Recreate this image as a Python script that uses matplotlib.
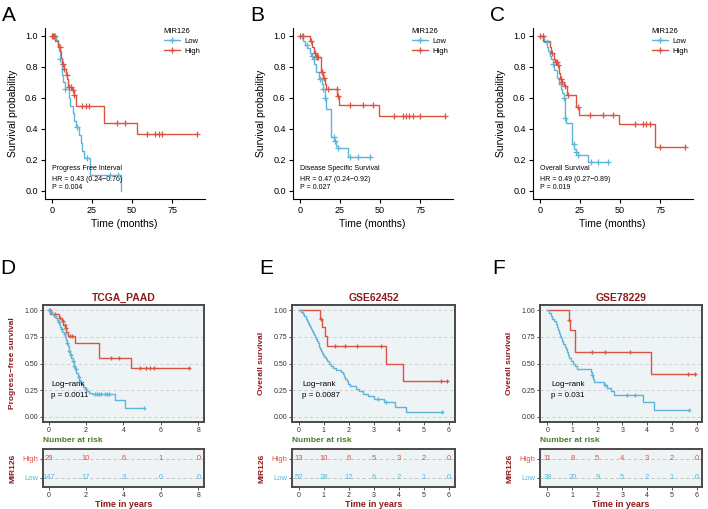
import numpy as np
import matplotlib
matplotlib.use('Agg')
import matplotlib.pyplot as plt
from matplotlib.lines import Line2D

plt.rcParams['font.family'] = ['Liberation Sans', 'DejaVu Sans']

W, H = 708, 509
BLUE = '#5DB5D8'
RED = '#DD5341'
DARKRED = '#8E1B1B'
GREEN = '#4C7A2C'
PANEL_BG = '#EEF3F5'

# ---- top row (months) ----
a_low_time = [2.5, 3.5, 4.5, 5, 6, 6.5, 7, 8, 10.5, 11.5, 13, 14, 15, 17, 18, 19, 20, 23.5, 43]
a_low_surv = [0.975, 0.95, 0.9, 0.85, 0.8, 0.75, 0.7, 0.66, 0.6, 0.55, 0.5, 0.45, 0.41, 0.36, 0.31, 0.26, 0.21, 0.1, 0.0]
a_low_cens = [2, 5.2, 8, 15.5, 22, 36, 41]
a_high_time = [2.0, 3.5, 5.2, 5.8, 6.5, 7.2, 8.5, 9.5, 10.2, 12.5, 13.5, 15, 32.5, 53]
a_high_surv = [0.97, 0.93, 0.9, 0.86, 0.82, 0.79, 0.75, 0.72, 0.67, 0.65, 0.62, 0.55, 0.44, 0.365]
a_high_cens = [0.2, 0.8, 1.5, 5, 6.7, 7.5, 9.2, 10.8, 11.8, 12.8, 13.8, 18.5, 21.2, 23.3, 40.4, 45.6, 59, 64.4, 66.5, 68.5, 90.5]

b_low_time = [2, 3, 4.5, 6, 7, 8, 9, 10, 12, 13.5, 14.5, 15.5, 16, 19.5, 21.5, 22.5, 23.5, 30]
b_low_surv = [0.97, 0.94, 0.92, 0.89, 0.87, 0.85, 0.82, 0.77, 0.72, 0.69, 0.66, 0.6, 0.53, 0.35, 0.32, 0.29, 0.275, 0.22]
b_low_cens = [1, 4.2, 7.7, 8.8, 12.5, 14.5, 15.8, 21, 22, 23.6, 31, 36.5, 43.7]
b_high_time = [6, 7.5, 9, 10, 13, 14.5, 15.5, 16.5, 23.2, 24.4, 49.6]
b_high_surv = [0.97, 0.93, 0.89, 0.865, 0.77, 0.73, 0.69, 0.655, 0.61, 0.555, 0.485]
b_high_cens = [0, 1.7, 6.9, 9.4, 10.4, 11.2, 13.5, 14, 15, 17.2, 23, 23.6, 31, 39.6, 45.4, 58.7, 64, 66, 68.3, 70.8, 75, 90.6]

c_low_time = [2.5, 4.5, 5, 6, 7, 8, 9, 10.5, 12, 13, 14, 14.8, 15.6, 16.5, 19.8, 21.5, 22.5, 23.5, 30.2]
c_low_surv = [0.96, 0.93, 0.9, 0.87, 0.85, 0.82, 0.78, 0.73, 0.69, 0.66, 0.63, 0.6, 0.47, 0.44, 0.3, 0.27, 0.25, 0.235, 0.185]
c_low_cens = [2, 4.2, 8.3, 12.9, 14.9, 15.8, 21.2, 22.6, 23.6, 31.9, 36.5, 42.3]
c_high_time = [1.8, 6.3, 7, 8.5, 9.5, 11, 12, 12.5, 13.5, 15, 16.7, 22.5, 24.4, 49.6, 71.9]
c_high_surv = [0.97, 0.93, 0.89, 0.85, 0.83, 0.81, 0.76, 0.72, 0.705, 0.68, 0.62, 0.54, 0.49, 0.43, 0.285]
c_high_cens = [0, 1.7, 7.3, 9.8, 10.5, 11.2, 12.9, 14, 15.5, 17.5, 23.5, 31.25, 39.6, 45.4, 59, 64, 66.25, 68.75, 75, 90.6]

# ---- bottom row (years) ----
d_low_time = [0.05, 0.12, 0.2, 0.3, 0.38, 0.45, 0.5, 0.56, 0.62, 0.68, 0.74, 0.8, 0.86, 0.92, 0.98, 1.04,
              1.1, 1.16, 1.22, 1.28, 1.34, 1.4, 1.48, 1.56, 1.64, 1.72, 1.82, 1.92, 2.02, 2.15, 2.3, 3.55, 4.1]
d_low_surv = [0.99, 0.98, 0.97, 0.95, 0.93, 0.91, 0.89, 0.87, 0.84, 0.82, 0.8, 0.78, 0.75, 0.72, 0.69, 0.66,
              0.62, 0.58, 0.55, 0.52, 0.48, 0.45, 0.41, 0.37, 0.34, 0.31, 0.28, 0.26, 0.24, 0.22, 0.21, 0.16, 0.085]
d_low_cens = [0.03, 0.15, 0.35, 0.55, 0.7, 0.85, 1.0, 1.1, 1.2, 1.3, 1.36, 1.45, 1.6, 1.7, 2.0, 2.5, 2.6,
              2.7, 2.8, 3.0, 3.1, 3.2, 5.08]
d_high_time = [0.1, 0.55, 0.7, 0.78, 0.88, 0.95, 1.04, 1.42, 2.7, 4.4]
d_high_surv = [0.965, 0.93, 0.9, 0.86, 0.83, 0.8, 0.76, 0.69, 0.55, 0.46]
d_high_cens = [0.05, 0.32, 0.6, 0.75, 0.85, 0.93, 1.15, 1.25, 3.35, 3.78, 4.9, 5.22, 5.43, 5.63, 7.52]
d_ticks = [0, 2, 4, 6, 8]
d_risk_high = [29, 10, 6, 1, 0]
d_risk_low = [147, 17, 3, 0, 0]

e_low_time = [0.08, 0.15, 0.22, 0.28, 0.33, 0.38, 0.42, 0.46, 0.5, 0.54, 0.58, 0.62, 0.66, 0.7, 0.73, 0.76,
              0.79, 0.82, 0.86, 0.9, 0.94, 0.98, 1.02, 1.07, 1.13, 1.2, 1.27, 1.35, 1.5, 1.7, 1.76, 1.8,
              1.85, 1.92, 1.98, 2.05, 2.3, 2.4, 2.55, 2.75, 3.0, 3.4, 3.84, 4.3]
e_low_surv = [0.981, 0.962, 0.942, 0.923, 0.904, 0.885, 0.865, 0.846, 0.827, 0.808, 0.788, 0.769, 0.75, 0.731,
              0.712, 0.692, 0.673, 0.654, 0.635, 0.615, 0.596, 0.577, 0.558, 0.538, 0.519, 0.5, 0.481, 0.462,
              0.442, 0.423, 0.4, 0.377, 0.354, 0.331, 0.308, 0.285, 0.262, 0.238, 0.215, 0.192, 0.169, 0.141,
              0.094, 0.047]
e_low_cens = [3.17, 3.47, 5.73]
e_high_time = [0.86, 0.92, 1.05, 1.12, 3.49, 4.17]
e_high_surv = [0.923, 0.846, 0.76, 0.667, 0.5, 0.333]
e_high_cens = [0.88, 1.44, 1.83, 2.31, 3.3, 5.67, 5.93]
e_ticks = [0, 1, 2, 3, 4, 5, 6]
e_risk_high = [13, 10, 6, 5, 3, 2, 0]
e_risk_low = [52, 28, 12, 6, 2, 1, 0]

f_low_time = [0.07, 0.14, 0.2, 0.27, 0.33, 0.38, 0.43, 0.48, 0.52, 0.56, 0.6, 0.64, 0.69, 0.74, 0.78,
              0.82, 0.86, 0.93, 1.02, 1.1, 1.2, 1.73, 1.78, 1.82, 1.86, 2.28, 2.4, 2.55, 2.67, 3.83, 4.27]
f_low_surv = [0.974, 0.947, 0.921, 0.895, 0.868, 0.842, 0.816, 0.789, 0.763, 0.737, 0.711, 0.684, 0.658,
              0.632, 0.605, 0.579, 0.553, 0.526, 0.5, 0.474, 0.447, 0.42, 0.394, 0.355, 0.322, 0.295, 0.268,
              0.241, 0.202, 0.135, 0.067]
f_low_cens = [1.8, 2.3, 3.2, 3.5, 5.69]
f_high_time = [0.85, 0.92, 1.1, 4.15]
f_high_surv = [0.909, 0.818, 0.606, 0.404]
f_high_cens = [0.87, 1.8, 2.31, 3.33, 5.64, 5.9]
f_ticks = [0, 1, 2, 3, 4, 5, 6]
f_risk_high = [11, 8, 5, 4, 3, 2, 0]
f_risk_low = [38, 20, 9, 5, 2, 1, 0]


def surv_at(t, s, c):
    t = np.asarray(t)
    s = np.asarray(s)
    idx = np.searchsorted(t, c, side='right') - 1
    return np.where(idx >= 0, s[np.clip(idx, 0, None)], 1.0)


def draw_curve(ax, t, s, cens, color, lw, ms):
    t_end = max(t[-1], max(cens))
    x = [0] + list(t) + [t_end]
    y = [1.0] + list(s) + [s[-1]]
    ax.step(x, y, where='post', color=color, lw=lw, zorder=3)
    ax.plot(cens, surv_at(t, s, cens), '+', color=color, ms=ms, mew=lw * 0.9, zorder=4)


fig = plt.figure(figsize=(W / 100, H / 100), dpi=100)


def top_panel(t0_px, letter, low, high, name, hr, p):
    x_lo, x_hi = -4.6, 95.3
    left = t0_px + 1.6 * x_lo
    ax = fig.add_axes([left / W, 1 - 199 / H, 160 / W, 170.75 / H])
    draw_curve(ax, *low, BLUE, 1.0, 5)
    draw_curve(ax, *high, RED, 1.0, 5)
    ax.set_xlim(x_lo, x_hi)
    ax.set_ylim(-0.052, 1.05)
    ax.set_xticks([0, 25, 50, 75])
    ax.set_yticks([0, 0.2, 0.4, 0.6, 0.8, 1.0])
    ax.set_yticklabels(['0.0', '0.2', '0.4', '0.6', '0.8', '1.0'])
    for sp in ['top', 'right']:
        ax.spines[sp].set_visible(False)
    for sp in ['left', 'bottom']:
        ax.spines[sp].set_linewidth(0.8)
    ax.tick_params(labelsize=6.5, length=3, width=0.8, pad=2)
    ax.set_xlabel('Time (months)', fontsize=7.5, labelpad=3)
    ax.set_ylabel('Survival probability', fontsize=7.5)
    ax.yaxis.set_label_coords(-0.165, 0.5)
    handles = [Line2D([], [], color=BLUE, marker='+', lw=1, ms=5),
               Line2D([], [], color=RED, marker='+', lw=1, ms=5)]
    ax.legend(handles, ['Low', 'High'], title='MIR126', loc='upper left',
              bbox_to_anchor=(0.71, 1.03), frameon=False, fontsize=5.5,
              title_fontsize=5.5, handlelength=2.2, labelspacing=0.3,
              borderpad=0.2, handletextpad=0.5, alignment='left')
    ax.text(0, 0.148, name, fontsize=5, va='center', ha='left')
    ax.text(0, 0.077, hr, fontsize=5, va='center', ha='left')
    ax.text(0, 0.019, p, fontsize=5, va='center', ha='left')
    fig.text((t0_px - 50) / W, 1 - 6 / H, letter, fontsize=15, va='top', ha='left')


top_panel(52, 'A', (a_low_time, a_low_surv, a_low_cens), (a_high_time, a_high_surv, a_high_cens),
          'Progress Free Interval', 'HR = 0.43 (0.24\u22120.76)', 'P = 0.004')
top_panel(300, 'B', (b_low_time, b_low_surv, b_low_cens), (b_high_time, b_high_surv, b_high_cens),
          'Disease Specific Survival', 'HR = 0.47 (0.24\u22120.92)', 'P = 0.027')
top_panel(540, 'C', (c_low_time, c_low_surv, c_low_cens), (c_high_time, c_high_surv, c_high_cens),
          'Overall Survival', 'HR = 0.49 (0.27\u22120.89)', 'P = 0.019')


def style_box(ax):
    ax.set_facecolor(PANEL_BG)
    for sp in ax.spines.values():
        sp.set_color('#4A4A4A')
        sp.set_linewidth(1.4)
    ax.tick_params(labelsize=5, length=2, width=0.6, color='#333333', labelcolor='#333333', pad=1.5)


def bottom_panel(x0, x1, letter, letter_x, title, ylabel, low, high, xlim, ticks, rh, rl, pval):
    main = fig.add_axes([x0 / W, 1 - 422 / H, (x1 - x0) / W, 117 / H])
    style_box(main)
    for yv in [0, 0.25, 0.5, 0.75, 1.0]:
        main.axhline(yv, color='#C8CCCE', lw=0.6, ls=(0, (4, 3)), zorder=1)
    draw_curve(main, *high, RED, 1.0, 3.5)
    draw_curve(main, *low, BLUE, 1.0, 3.5)
    main.set_xlim(*xlim)
    main.set_ylim(-0.05, 1.05)
    main.set_xticks(ticks)
    main.set_yticks([0, 0.25, 0.5, 0.75, 1.0])
    main.set_yticklabels(['0.00', '0.25', '0.50', '0.75', '1.00'])
    main.set_title(title, fontsize=7.5, fontweight='bold', color=DARKRED, pad=3)
    main.set_ylabel(ylabel, fontsize=6, fontweight='bold', color=DARKRED)
    main.yaxis.set_label_coords(-0.165, 0.5)
    main.text(0.15, 0.3, 'Log\u2212rank', fontsize=5.8, va='center', ha='left')
    main.text(0.15, 0.2, 'p = ' + pval, fontsize=5.8, va='center', ha='left')

    risk = fig.add_axes([x0 / W, 1 - 487 / H, (x1 - x0) / W, 38 / H])
    style_box(risk)
    risk.set_xlim(*xlim)
    risk.set_ylim(-0.5, 1.5)
    for yv in [0, 1]:
        risk.axhline(yv, color='#BDBDBD', lw=0.6, ls=(0, (4, 3)), zorder=1)
    for xv, n in zip(ticks, rh):
        risk.text(xv, 1, str(n), color=RED, fontsize=5.5, ha='center', va='center', zorder=3)
    for xv, n in zip(ticks, rl):
        risk.text(xv, 0, str(n), color=BLUE, fontsize=5.5, ha='center', va='center', zorder=3)
    risk.set_xticks(ticks)
    risk.set_yticks([1, 0])
    risk.set_yticklabels(['High', 'Low'])
    for lab, c in zip(risk.get_yticklabels(), [RED, BLUE]):
        lab.set_color(c)
        lab.set_fontsize(5.5)
    risk.set_ylabel('MIR126', fontsize=6, fontweight='bold', color=DARKRED)
    risk.yaxis.set_label_coords(-0.165, 0.5)
    risk.set_xlabel('Time in years', fontsize=6.5, fontweight='bold', color=DARKRED, labelpad=1)
    fig.text(x0 / W, 1 - 441 / H, 'Number at risk', fontsize=6, fontweight='bold', color=GREEN,
             va='center', ha='left')
    fig.text(letter_x / W, 1 - 259 / H, letter, fontsize=15, va='top', ha='left')


bottom_panel(43, 204, 'D', 0, 'TCGA_PAAD', 'Progress\u2212free survival',
             (d_low_time, d_low_surv, d_low_cens), (d_high_time, d_high_surv, d_high_cens),
             (-0.3, 8.3), d_ticks, d_risk_high, d_risk_low, '0.0011')
bottom_panel(292, 455, 'E', 259, 'GSE62452', 'Overall survival',
             (e_low_time, e_low_surv, e_low_cens), (e_high_time, e_high_surv, e_high_cens),
             (-0.27, 6.25), e_ticks, e_risk_high, e_risk_low, '0.0087')
bottom_panel(540, 702, 'F', 492, 'GSE78229', 'Overall survival',
             (f_low_time, f_low_surv, f_low_cens), (f_high_time, f_high_surv, f_high_cens),
             (-0.3, 6.2), f_ticks, f_risk_high, f_risk_low, '0.031')

fig.savefig('out.png', dpi=100)
